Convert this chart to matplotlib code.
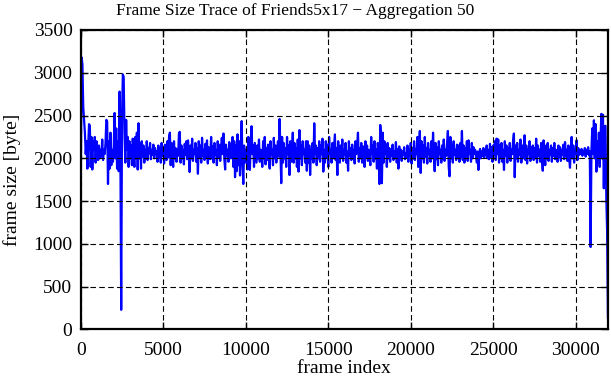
import numpy as np
import matplotlib
matplotlib.use("Agg")
import matplotlib.pyplot as plt

seg_a = [1700, 3180, 3100, 2600, 2450, 2300, 2050, 2200, 1880, 2150,
         2400, 2380, 1900, 2250, 1870, 2200, 2100, 2250, 1950, 2200,
         2050, 1980, 2150, 2000, 2100, 2020, 2220, 1980, 2100, 2050,
         2180, 2450, 2430, 1700, 2200, 1880, 2300, 1920, 2100, 1960,
         2150, 2530, 2000, 2350, 1880, 2200, 1850, 2780, 2100, 230,
         2500, 2980, 2950, 2300, 1950, 2450, 2100, 2250, 1900, 2200,
         2000, 2150, 1920, 2230, 2050, 1900, 2250, 2000, 2300, 1870,
         2410, 2000, 2180, 1880, 2200, 2020, 2150, 1950, 2100, 2000,
         2200, 1980, 2120, 2060, 2180, 1990, 2100, 2040, 2160, 2000,
         2120, 2060]
seg_b = [2080, 1960, 2150, 2010, 2120, 1950, 2180, 2030,
         2100, 1940, 2160, 2060, 1980, 2200, 2010, 2250, 2300, 1920,
         2180, 2050, 1900, 2200, 2000, 2120, 1960, 2100, 2030, 2290,
         2310, 1950, 2150, 2000, 2100, 1930, 2170, 2040, 2200, 1990,
         2210, 2060, 1840, 2150, 2000, 2230, 1970, 2100, 2050, 2180,
         1960, 2120, 1820, 2200, 2010, 2150, 1950, 2240, 2030, 2100,
         1980, 2170, 2020, 2210, 1940, 2130, 2060, 1990, 2250, 2000,
         2140, 1950, 2180, 2040, 2100, 1920, 2200, 2010, 2160, 1970,
         2120, 2240, 2050, 2290, 1990, 1870, 2160, 2030, 2100, 1960,
         2190, 2050, 2000, 2140]
seg_c = [2250, 1900, 2200, 1780, 2150, 1850, 2280, 1920, 2200, 1800,
         2100, 2435, 1950, 1700, 2150, 1950, 2100, 2020, 1870, 2250,
         2000, 1865, 2200, 2375, 2050, 2150, 1900, 2180, 2060, 1950,
         2150, 2000, 2220, 1960, 2100, 2050, 1900, 2200, 2000, 2250,
         1930, 2120, 1980, 2160, 2030, 1880, 2200, 2050, 2100, 1920,
         2240, 2000, 2150, 1950, 2080, 2200, 2020, 2460, 2100, 1710,
         2250, 1950, 2180, 2000, 2120, 1900, 2250, 2050, 2150, 1805,
         2200, 1960, 2100, 2300, 1950, 2180, 2000, 2120, 1900, 2220,
         1845, 2330, 2000, 2150, 1920, 2200, 2050, 2100, 1950, 2200,
         1855]
seg_d = [2200, 1950, 2150, 1805, 2100, 2000, 2180, 1950, 2410, 2050,
         2150, 1920, 2120, 2000, 2200, 1960, 2150, 2050, 2230, 1845,
         2100, 1950, 2200, 2020, 2160, 1900, 2250, 2050, 2100, 1950,
         2180, 2000, 2150, 2280, 1980, 2120, 1805, 2200, 2050, 1950,
         2150, 2010, 2220, 1970, 2100, 2040, 2180, 1950, 2080, 1855,
         2200, 2030, 2120, 1980, 2160, 2000, 2100, 1940, 2200, 2050,
         2150, 2300, 1960, 2120, 2000, 2180, 1950, 2140, 2040, 1900,
         2200, 2010, 2150, 1970, 2100, 2030, 1920, 2250, 2050, 2150,
         1960, 2200, 2000, 2110, 1880, 2180, 2050, 1700, 2390, 2250,
         1710]
seg_e = [2300, 1950, 2200, 2050, 2150, 1900, 2180, 2000, 2120, 1960,
         2100, 2030, 2160, 1980, 2080, 2020, 2190, 1950, 2110, 1880,
         2140, 2010, 2100, 1970, 2080, 2040, 2130, 1990, 2060, 2010,
         2150, 1960, 2100, 2030, 2180, 1940, 2120, 2000, 2200, 1980,
         2100, 2050, 2250, 1900, 2150, 2320, 1830, 2200, 2000, 2150,
         1950, 2250, 2020, 2120, 1940, 2180, 2050, 2100, 1960, 2200,
         2000, 2300, 2050, 1850, 2180, 1990, 2130, 1920, 2200, 2050,
         2100, 1950, 2150, 2000, 2220, 1970, 2100, 2030, 2180, 2320,
         1900, 1790, 2250, 2000, 2150, 1950, 2200, 2040, 2100, 1980,
         2160, 2020]
seg_f = [2150, 1960, 2180, 2020, 2320, 1980, 2150, 1950, 2120, 2030,
         2200, 1970, 2210, 2050, 2100, 1960, 2180, 2000, 2130, 2050,
         2100, 2020, 1950, 2080, 1865, 2060, 2110, 2000, 2080, 2030,
         2120, 2010, 2090, 2040, 2150, 2000, 2100, 1990, 2170, 2020,
         2130, 1960, 2150, 2040, 2200, 1980, 2230, 2050, 2220, 1950,
         2150, 2000, 2180, 1960, 2100, 1865, 2200, 2030, 2150, 1950,
         2120, 2010, 2180, 1970, 2100, 2050, 2200, 2290, 1780, 2150,
         2000, 2180, 1960, 2100, 2040, 2220, 1950, 2150, 2000, 2120,
         2270, 1980, 2150, 1940, 2100, 2050, 2200, 1970, 2130, 2010,
         2150]
seg_g = [1980, 2120, 2000, 2230, 1950, 2150, 2030, 2100, 1960, 2180,
         2000, 1855, 2210, 2050, 1920, 2150, 2000, 2180, 1970, 2100,
         2040, 2150, 1960, 2120, 2030, 2180, 1990, 2100, 2050, 1960,
         2150, 2010, 2130, 1970, 2100, 2040, 2160, 1990, 2190, 2030,
         2100, 1970, 2150, 2000, 1890, 2120, 2250, 2000, 2150, 1950,
         2100, 2050, 2210, 1980, 2120, 2040, 2090, 2050, 2110, 2030,
         2080, 2060, 2120, 2020, 2100, 2050, 2130, 2040, 2080, 964,
         2100, 2350, 2050, 2445, 2000, 2400, 1845, 2200, 1950, 2300,
         1900, 2200, 2520, 2000, 2510, 1650, 2370, 2380, 1550, 1150,
         140]

frame_size = seg_a + seg_b + seg_c + seg_d + seg_e + seg_f + seg_g
frame_index = np.arange(len(frame_size)) * 50

x_ticks = [0, 5000, 10000, 15000, 20000, 25000, 30000]
y_ticks = [0, 500, 1000, 1500, 2000, 2500, 3000, 3500]

plt.rcParams['font.family'] = ['Liberation Serif', 'DejaVu Serif']
plt.rcParams['font.size'] = 14

fig = plt.figure(figsize=(6.11, 3.80), dpi=100)
ax = fig.add_axes([0.1322, 0.1329, 0.8628, 0.7882])

ax.plot(frame_index, frame_size, color='#0000ff', linewidth=1.6, zorder=2)

ax.set_xlim(0, 31950)
ax.set_ylim(0, 3500)
ax.set_xticks(x_ticks)
ax.set_yticks(y_ticks)

# gnuplot look: inward ticks on all sides, dashed grid drawn over the data
ax.tick_params(direction='in', length=5, width=1, top=True, right=True,
               labelsize=14, colors='black')
ax.tick_params(axis='x', pad=9)
ax.tick_params(axis='y', pad=6)
ax.set_axisbelow(False)
ax.grid(True, color='black', linestyle=(0, (5, 3)), linewidth=0.8)
for sp in ax.spines.values():
    sp.set_linewidth(1.6)

ax.set_xlabel('frame index', fontsize=14, labelpad=1)
ax.set_ylabel('frame size [byte]', fontsize=14, labelpad=9)
fig.text(295 / 611, 1 - 11 / 380, 'Frame Size Trace of Friends5x17 \u2212 Aggregation 50',
         ha='center', va='center', fontsize=12.5)

fig.savefig('out.png', dpi=100)
